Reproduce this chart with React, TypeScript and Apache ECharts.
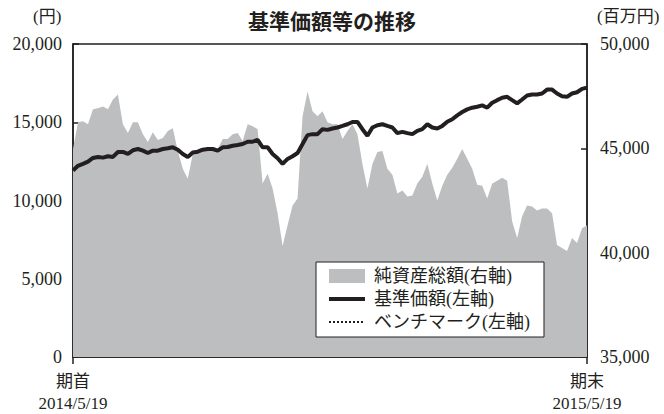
import React, { useEffect, useRef } from "react";
import * as echarts from "echarts";

// 基準価額 (円, left axis)
const navValues = [
  11918, 12215, 12342, 12487, 12721, 12785, 12740, 12829, 12785, 13101,
  13101, 12975, 13209, 13291, 13183, 13038, 13183, 13183, 13291, 13335,
  13398, 13247, 12975, 12785, 13070, 13120, 13247, 13291, 13291, 13183,
  13398, 13417, 13500, 13544, 13607, 13753, 13753, 13880, 13398, 13398,
  12975, 12702, 12342, 12658, 12829, 13038, 13607, 14177, 14240, 14240,
  14557, 14512, 14601, 14664, 14766, 14873, 15019, 15019, 14557, 14133,
  14664, 14810, 14873, 14766, 14664, 14304, 14386, 14304, 14240, 14449,
  14557, 14873, 14664, 14601, 14766, 15031, 15190, 15443, 15652, 15823,
  15930, 15993, 16076, 15930, 16247, 16411, 16563, 16626, 16411, 16202,
  16455, 16709, 16772, 16772, 16835, 17088, 17088, 16835, 16664, 16626,
  16835, 16917, 17133, 17215,
];

// 純資産総額 (百万円, right axis)
const netAssets = [
  44970, 46250, 46300, 46155, 46870, 46915, 47010, 46870, 47340, 47580,
  46155, 45730, 46250, 46250, 45680, 45300, 45775, 45395, 45490, 45825,
  45965, 44875, 44020, 43545, 44730, 44825, 44875, 44875, 44920, 44970,
  45445, 45445, 45680, 45730, 45350, 46155, 46060, 45920, 43310, 43780,
  43070, 41885, 40315, 41315, 42265, 42595, 46535, 47720, 46775, 46535,
  46775, 46250, 46155, 46155, 45445, 45825, 46155, 45680, 44255, 43070,
  44255, 44825, 44875, 44020, 43735, 42835, 42975, 42690, 42740, 43310,
  43640, 44255, 43310, 42500, 43210, 43735, 44065, 44495, 44970, 44495,
  44020, 43260, 43210, 42595, 43310, 43450, 43590, 43450, 41505, 40700,
  41740, 42265, 42215, 42025, 42120, 42120, 41885, 40365, 40220, 40080,
  40700, 40460, 41170, 41315,
];

// ベンチマーク: none shown
const benchmark: number[] = [];

const startLabel = "期首\n2014/5/19";
const endLabel = "期末\n2015/5/19";
const categories = navValues.map((_, i) => String(i));

const seriesNames = ["純資産総額(右軸)", "基準価額(左軸)", "ベンチマーク(左軸)"];
const title = "基準価額等の推移";
const leftUnit = "(円)";
const rightUnit = "(百万円)";

const INK = "#231f20";
const GRAY = "#bcbec0";
const SERIF = "'Liberation Serif', 'DejaVu Serif', 'Noto Sans CJK JP', serif";

export default function App() {
  const ref = useRef<HTMLDivElement>(null);
  useEffect(() => {
    if (!ref.current) return;
    const chart = echarts.init(ref.current, null, { renderer: "svg" });
    const last = categories.length - 1;
    chart.setOption({
      animation: false,
      backgroundColor: "#ffffff",
      title: {
        text: title,
        left: "center",
        top: 4,
        textStyle: {
          fontFamily: "'Noto Sans CJK JP', sans-serif",
          fontSize: 21,
          fontWeight: "bold",
          color: INK,
        },
      },
      graphic: [
        {
          type: "text",
          left: 33,
          top: 8,
          style: { text: leftUnit, font: `17px ${SERIF}`, fill: INK },
        },
        {
          type: "text",
          left: 597,
          top: 8,
          style: { text: rightUnit, font: `17px ${SERIF}`, fill: INK },
        },
      ],
      legend: {
        orient: "vertical",
        left: 316,
        top: 262,
        backgroundColor: "#ffffff",
        borderColor: INK,
        borderWidth: 1,
        borderRadius: 0,
        padding: [5, 14, 6, 11],
        itemWidth: 36,
        itemHeight: 14,
        itemGap: 5,
        textStyle: {
          fontFamily: SERIF,
          fontSize: 18,
          lineHeight: 18,
          color: INK,
          padding: [0, 0, 0, 4],
        },
        data: [
          { name: seriesNames[0], icon: "rect", itemStyle: { color: GRAY } },
          {
            name: seriesNames[1],
            lineStyle: { width: 4, color: INK },
            itemStyle: { opacity: 0 },
          },
          {
            name: seriesNames[2],
            lineStyle: { width: 2, color: INK, type: [2, 2] },
            itemStyle: { opacity: 0 },
          },
        ],
      },
      grid: {
        left: 73,
        right: 77,
        top: 44,
        bottom: 54,
        show: true,
        borderColor: INK,
        borderWidth: 1.5,
        backgroundColor: "transparent",
      },
      xAxis: {
        type: "category",
        data: categories,
        boundaryGap: false,
        axisLine: { show: true, lineStyle: { color: INK, width: 1.5 } },
        axisTick: {
          show: true,
          inside: false,
          length: 7,
          interval: (i: number) => i === 0 || i === last,
          lineStyle: { color: INK, width: 1.5 },
        },
        axisLabel: {
          interval: 0,
          margin: 13,
          fontFamily: SERIF,
          fontSize: 17,
          lineHeight: 22,
          color: INK,
          formatter: (_v: string, i: number) =>
            i === 0 ? startLabel : i === last ? endLabel : "",
        },
        splitLine: { show: false },
      },
      yAxis: [
        {
          type: "value",
          min: 0,
          max: 20000,
          interval: 5000,
          position: "left",
          axisLine: { show: true, lineStyle: { color: INK, width: 1.5 } },
          axisTick: { show: true, inside: true, length: 6, lineStyle: { color: INK, width: 1.5 } },
          axisLabel: {
            margin: 11,
            fontFamily: SERIF,
            fontSize: 18,
            color: INK,
            formatter: (v: number) => v.toLocaleString("en-US"),
          },
          splitLine: { show: false },
        },
        {
          type: "value",
          min: 35000,
          max: 50000,
          interval: 5000,
          position: "right",
          axisLine: { show: true, lineStyle: { color: INK, width: 1.5 } },
          axisTick: { show: true, inside: true, length: 6, lineStyle: { color: INK, width: 1.5 } },
          axisLabel: {
            margin: 13,
            fontFamily: SERIF,
            fontSize: 18,
            color: INK,
            formatter: (v: number) => v.toLocaleString("en-US"),
          },
          splitLine: { show: false },
        },
      ],
      series: [
        {
          name: seriesNames[0],
          type: "line",
          yAxisIndex: 1,
          data: netAssets,
          symbol: "none",
          lineStyle: { width: 0, color: GRAY },
          itemStyle: { color: GRAY },
          areaStyle: { color: GRAY, opacity: 1, origin: "start" },
          z: 1,
        },
        {
          name: seriesNames[1],
          type: "line",
          yAxisIndex: 0,
          data: navValues,
          symbol: "none",
          lineStyle: { width: 4, color: INK },
          itemStyle: { color: INK },
          z: 3,
        },
        {
          name: seriesNames[2],
          type: "line",
          yAxisIndex: 0,
          data: benchmark,
          symbol: "none",
          lineStyle: { width: 2, color: INK, type: [2, 2] },
          itemStyle: { color: INK },
          z: 2,
        },
      ],
    });
    return () => chart.dispose();
  }, []);
  return (
    <div
      style={{
        position: "absolute",
        left: 0,
        top: 0,
        width: 664,
        height: 414,
        overflow: "hidden",
      }}
    >
      <div ref={ref} style={{ width: 664, height: 414 }} />
    </div>
  );
}
